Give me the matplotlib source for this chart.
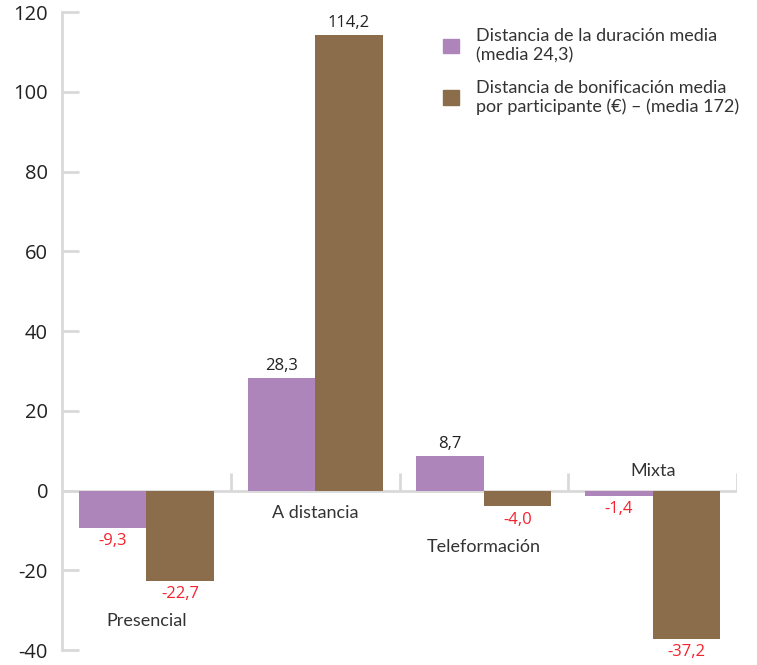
import matplotlib
matplotlib.use("Agg")
import matplotlib.pyplot as plt
import numpy as np
from matplotlib.patches import Patch

plt.rcParams["axes.unicode_minus"] = False

# Datos
categorias = ["Presencial", "A distancia", "Teleformación", "Mixta"]
duracion = [-9.3, 28.3, 8.7, -1.4]
bonificacion = [-22.7, 114.2, -4.0, -37.2]
etiqueta_y = [-32.7, -5.6, -14.1, 5.0]  # altura del nombre de cada categoría
leyenda = ["Distancia de la duración media\n(media 24,3)",
           "Distancia de bonificación media\npor participante (€) – (media 172)"]

morado = "#AE85BA"
marron = "#8B6D4C"
gris = "#D9D9D9"
rojo = "#F5222D"

fig = plt.figure(figsize=(7.57, 6.65), dpi=100)
ax = fig.add_axes([62 / 757, 15 / 665, 675 / 757, 638 / 665])

x = np.arange(len(categorias))
w = 0.4
ax.bar(x - w / 2, duracion, w, color=morado, zorder=3)
ax.bar(x + w / 2, bonificacion, w, color=marron, zorder=3)

# línea del cero con marcas entre categorías
ax.axhline(0, color=gris, lw=2, zorder=2)
ax.vlines(np.arange(len(categorias)) + 0.5, 0, 4.3, color=gris, lw=2, zorder=2)

def etiqueta(xp, v):
    txt = f"{v:.1f}".replace(".", ",")
    if v >= 0:
        ax.text(xp, v + 1.0, txt, ha="center", va="bottom",
                fontsize=12, color="#222222", family="Open Sans")
    else:
        ax.text(xp, v - 1.3, txt, ha="center", va="top",
                fontsize=12, color=rojo, family="Open Sans")

for i in range(len(categorias)):
    etiqueta(x[i] - w / 2, duracion[i])
    etiqueta(x[i] + w / 2, bonificacion[i])
    ax.text(x[i], etiqueta_y[i], categorias[i], ha="center", va="center",
            fontsize=13, color="#333333", family="Lato")

ax.set_xlim(-0.5, 3.5)
ax.set_ylim(-40, 120)
ax.set_yticks(np.arange(-40, 121, 20))
ax.set_xticks([])
for s in ["top", "right", "bottom"]:
    ax.spines[s].set_visible(False)
ax.spines["left"].set_color(gris)
ax.spines["left"].set_linewidth(2)
ax.tick_params(axis="y", direction="in", length=12, width=2, color=gris,
               pad=10, labelsize=14.5, labelcolor="#222222")
for t in ax.get_yticklabels():
    t.set_family("Open Sans")

handles = [Patch(color=morado), Patch(color=marron)]
leg = ax.legend(handles, leyenda, loc="upper left", bbox_to_anchor=(427 / 757, 1 - 12 / 665),
                bbox_transform=fig.transFigure, frameon=False, handlelength=0.85,
                handleheight=0.85, handletextpad=0.95, labelspacing=0.9,
                prop={"family": "Lato", "size": 13}, labelcolor="#333333")
for t in leg.get_texts():
    t.set_linespacing(1.22)

fig.savefig("out.png", dpi=100)
